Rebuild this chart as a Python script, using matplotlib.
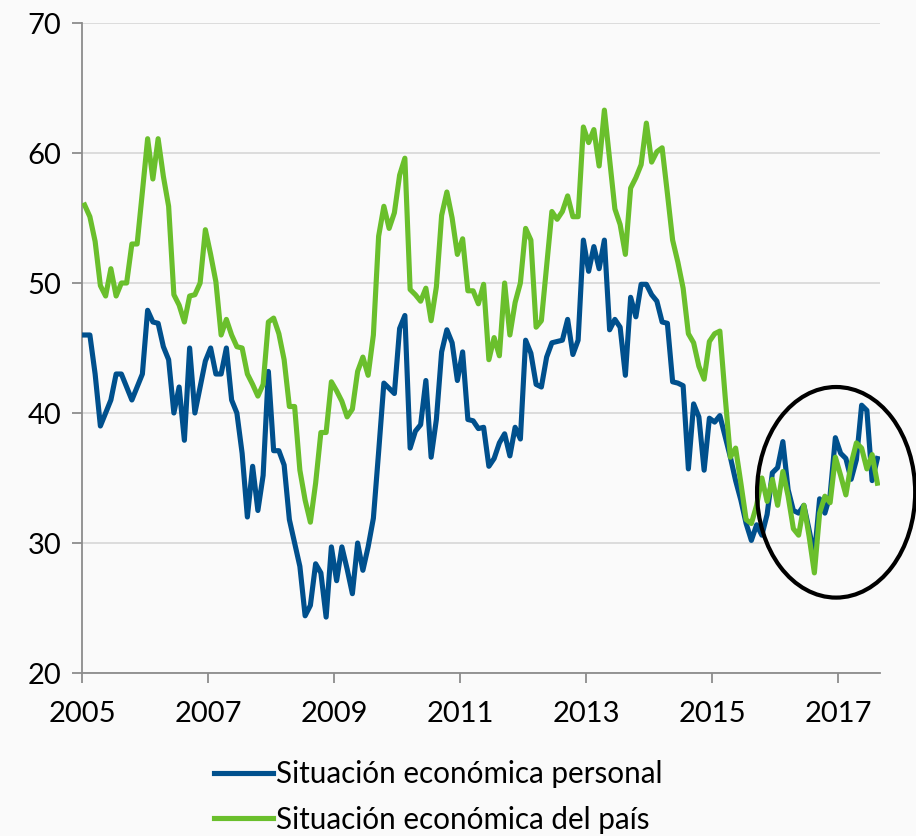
import numpy as np
import matplotlib
matplotlib.use("Agg")
import matplotlib.pyplot as plt
from matplotlib.patches import Ellipse

# Monthly data, january 2005 -> august 2017
start_year = 2005
personal = [46.0, 46.0, 43.0, 39.0, 40.0, 41.0, 43.0, 43.0, 42.0, 41.0, 42.0, 43.0,
            47.9, 47.0, 46.9, 45.1, 44.1, 40.0, 42.0, 37.9, 45.0, 40.0, 42.0, 44.0,
            45.0, 43.0, 43.0, 45.0, 41.0, 40.0, 36.9, 32.0, 35.9, 32.5, 35.2, 43.2,
            37.1, 37.1, 36.0, 31.8, 30.0, 28.2, 24.4, 25.2, 28.4, 27.7, 24.3, 29.7,
            27.1, 29.7, 28.0, 26.1, 30.0, 27.9, 29.7, 31.9, 37.0, 42.3, 41.9, 41.5,
            46.5, 47.5, 37.3, 38.6, 39.1, 42.5, 36.6, 39.5, 44.7, 46.4, 45.4, 42.5,
            44.7, 39.5, 39.4, 38.8, 38.9, 35.9, 36.5, 37.7, 38.4, 36.7, 38.9, 38.0,
            45.6, 44.6, 42.2, 42.0, 44.3, 45.4, 45.5, 45.6, 47.2, 44.5, 45.6, 53.3,
            50.9, 52.8, 51.1, 53.3, 46.4, 47.2, 46.6, 42.9, 48.9, 47.4, 49.9, 49.9,
            49.1, 48.6, 47.0, 46.9, 42.4, 42.3, 42.1, 35.7, 40.7, 39.7, 35.6, 39.6,
            39.3, 39.8, 38.2, 36.6, 34.8, 33.3, 31.5, 30.2, 31.4, 30.6, 32.2, 35.4,
            35.8, 37.8, 34.1, 32.5, 32.3, 32.9, 31.0, 29.0, 33.4, 32.3, 33.7, 38.1,
            36.9, 36.5, 34.9, 36.4, 40.6, 40.2, 34.8, 36.5]

pais = [56.0, 55.1, 53.2, 49.8, 49.0, 51.1, 49.0, 50.0, 50.0, 53.0, 53.0, 57.0,
        61.1, 58.0, 61.1, 58.2, 55.9, 49.1, 48.3, 47.0, 49.0, 49.1, 50.0, 54.1,
        52.2, 50.1, 46.0, 47.2, 46.0, 45.1, 45.0, 43.0, 42.2, 41.3, 42.2, 47.0,
        47.3, 46.1, 44.1, 40.5, 40.5, 35.6, 33.3, 31.6, 34.6, 38.5, 38.5, 42.4,
        41.7, 40.9, 39.7, 40.3, 43.2, 44.3, 42.9, 46.0, 53.6, 55.9, 54.2, 55.4,
        58.3, 59.6, 49.5, 49.1, 48.6, 49.6, 47.1, 49.7, 55.2, 57.0, 55.0, 52.2,
        53.4, 49.4, 49.4, 48.4, 49.9, 44.1, 45.8, 44.4, 50.0, 46.0, 48.5, 50.0,
        54.2, 53.3, 46.6, 47.1, 51.3, 55.5, 54.9, 55.5, 56.7, 55.1, 55.1, 62.0,
        60.8, 61.8, 59.0, 63.3, 59.5, 55.7, 54.5, 52.2, 57.3, 58.1, 59.1, 62.3,
        59.3, 60.1, 60.4, 56.9, 53.3, 51.6, 49.6, 46.1, 45.4, 43.6, 42.6, 45.5,
        46.1, 46.3, 41.3, 36.6, 37.3, 34.6, 31.8, 31.5, 32.9, 35.0, 33.2, 34.9,
        32.9, 35.5, 33.6, 31.1, 30.6, 32.9, 30.5, 27.7, 32.3, 33.6, 33.1, 36.6,
        35.2, 33.7, 36.1, 37.7, 37.3, 35.7, 36.8, 34.6]

labels = ["Situación económica personal", "Situación económica del país"]
year_ticks = [2005, 2007, 2009, 2011, 2013, 2015, 2017]
y_ticks = [20, 30, 40, 50, 60, 70]

# mid-month position of every point
months = np.arange(len(personal))
x = start_year + (months + 0.5) / 12.0

plt.rcParams['font.family'] = ['Lato', 'DejaVu Sans']

bg = '#fafafa'
fig = plt.figure(figsize=(9.16, 8.36), dpi=100, facecolor=bg)
ax = fig.add_axes([82/916, 1 - 673/836, 798/916, 650/836], facecolor=bg)

l1, = ax.plot(x, personal, color='#00508d', lw=3.7, solid_joinstyle='round', label=labels[0], zorder=3)
l2, = ax.plot(x, pais, color='#6abf2c', lw=3.7, solid_joinstyle='round', label=labels[1], zorder=4)

# circle around the last two years
circ = Ellipse((2016.97, 33.9), width=2.51, height=16.2, fill=False,
               ec='black', lw=3.0, clip_on=False, zorder=5)
ax.add_patch(circ)

ax.set_xlim(2005, 2005 + 798/63)
ax.set_ylim(20, 70)
ax.set_xticks(year_ticks)
ax.set_yticks(y_ticks)
ax.grid(axis='y', color='#d9d9d9', lw=1.3, zorder=0)

for s in ['top', 'right']:
    ax.spines[s].set_visible(False)
for s in ['left', 'bottom']:
    ax.spines[s].set_color('#8c8c8c')
    ax.spines[s].set_linewidth(1.3)

ax.tick_params(axis='x', direction='out', length=7, width=1.3, color='#8c8c8c',
               labelsize=21, pad=13)
ax.tick_params(axis='y', direction='out', length=7, width=1.3, color='#8c8c8c',
               labelsize=21, pad=8)

fig.legend(handles=[l1, l2], labels=labels, loc='upper left',
           bbox_to_anchor=(214/916, 1 - 760/836), frameon=False,
           fontsize=21.3, handlelength=2.0, handletextpad=0.1,
           labelspacing=0.6, borderpad=0, borderaxespad=0)

fig.savefig('out.png', dpi=100, facecolor=bg)
